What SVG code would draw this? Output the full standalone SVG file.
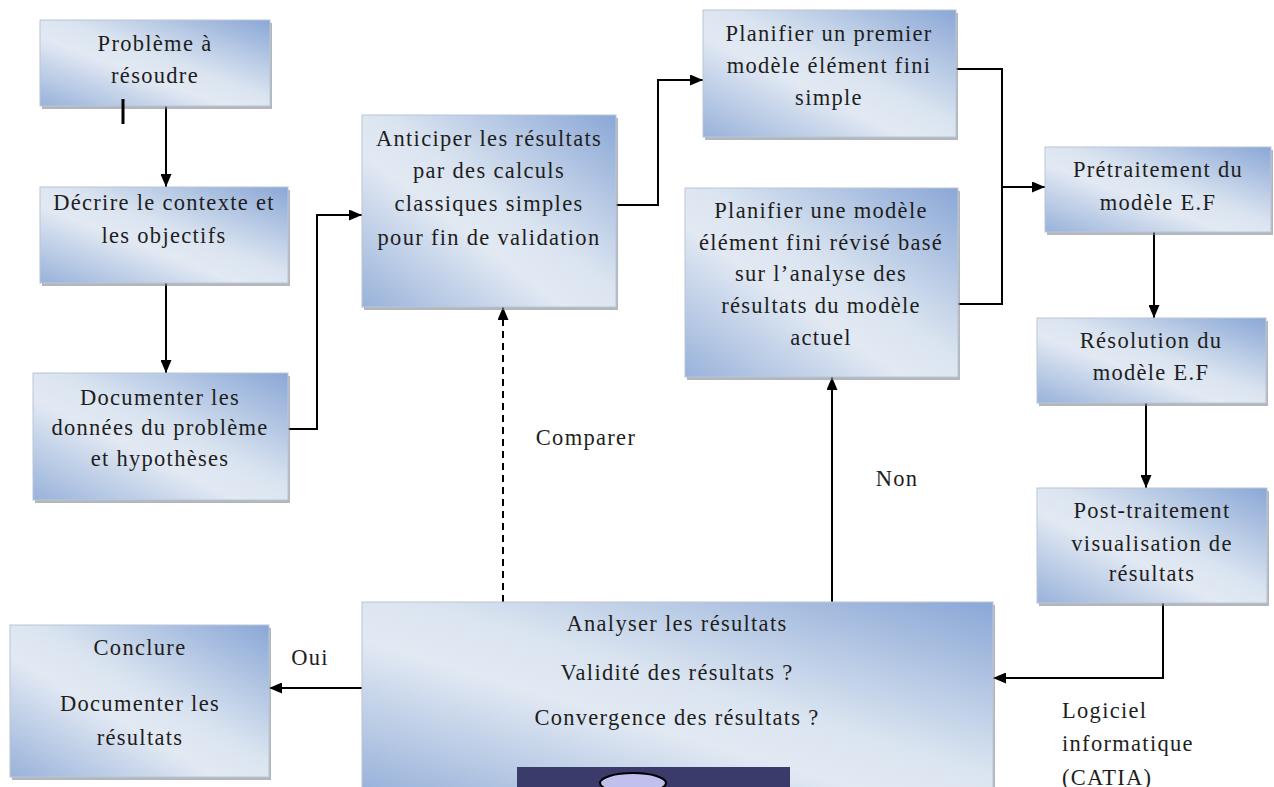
<svg xmlns="http://www.w3.org/2000/svg" width="1274" height="787" viewBox="0 0 1274 787">
<defs>
<linearGradient id="g" x1="1" y1="0" x2="0" y2="1">
<stop offset="0" stop-color="#8aa7d6"/>
<stop offset="0.45" stop-color="#dae4f0"/>
<stop offset="0.6" stop-color="#e2e9f3"/>
<stop offset="1" stop-color="#98b2da"/>
</linearGradient>
<marker id="ah" markerUnits="userSpaceOnUse" markerWidth="13" markerHeight="11" refX="13" refY="5.5" orient="auto">
<path d="M0,0 L13,5.5 L0,11 Z" fill="#000"/>
</marker>
</defs>
<style>
.box{fill:url(#g);stroke:#b9c6d8;stroke-width:1}
.sh{fill:#808790;opacity:0.6}
.t{font-family:"Liberation Serif","Times New Roman",serif;font-size:22.5px;letter-spacing:1.3px;fill:#1e1e1e;text-anchor:middle;dominant-baseline:central}
.l{text-anchor:start}
.c{fill:none;stroke:#000;stroke-width:2}
.a{marker-end:url(#ah)}
.d{stroke-dasharray:7 5}
</style>
<rect width="1274" height="787" fill="#ffffff"/>

<g id="connectors">
<polyline class="c a" points="166,106 166,187"/>
<polyline class="c a" points="166,283 166,373"/>
<polyline class="c a" points="288,429 317,429 317,215 362,215"/>
<polyline class="c a" points="616,205 658,205 658,80 703,80"/>
<polyline class="c" points="956,69 1002,69 1002,304 958,304"/>
<polyline class="c a" points="1002,187 1045,187"/>
<polyline class="c a" points="1154,232 1154,318"/>
<polyline class="c a" points="1146,403 1146,488"/>
<polyline class="c a" points="1163,603 1163,678 993,678"/>
<polyline class="c a d" points="503,602 503,307"/>
<polyline class="c a" points="832,602 832,377"/>
<polyline class="c a" points="362,688 269,688"/>
</g>

<g id="n1">
<rect class="sh" x="42" y="23" width="230" height="86"/>
<rect class="box" x="40" y="20" width="230" height="86"/>
<text class="t" x="155" y="43">Problème à</text>
<text class="t" x="155" y="75">résoudre</text>
</g>
<line x1="123" y1="99" x2="123" y2="124" stroke="#000" stroke-width="3"/>
<g id="n2">
<rect class="sh" x="42" y="190" width="248" height="96"/>
<rect class="box" x="40" y="187" width="248" height="96"/>
<text class="t" x="164" y="202">Décrire le contexte et</text>
<text class="t" x="164" y="235">les objectifs</text>
</g>
<g id="n3">
<rect class="sh" x="35" y="376" width="255" height="127"/>
<rect class="box" x="33" y="373" width="255" height="127"/>
<text class="t" x="160" y="397">Documenter les</text>
<text class="t" x="160" y="427">données du problème</text>
<text class="t" x="160" y="458">et hypothèses</text>
</g>
<g id="n4">
<rect class="sh" x="364" y="118" width="254" height="192"/>
<rect class="box" x="362" y="115" width="254" height="192"/>
<text class="t" x="489" y="138">Anticiper les résultats</text>
<text class="t" x="489" y="170">par des calculs</text>
<text class="t" x="489" y="203">classiques simples</text>
<text class="t" x="489" y="237">pour fin de validation</text>
</g>
<g id="n5">
<rect class="sh" x="705" y="13" width="253" height="127"/>
<rect class="box" x="703" y="10" width="253" height="127"/>
<text class="t" x="829" y="33">Planifier un premier</text>
<text class="t" x="829" y="65">modèle élément fini</text>
<text class="t" x="829" y="97">simple</text>
</g>
<g id="n6">
<rect class="sh" x="687" y="191" width="273" height="189"/>
<rect class="box" x="685" y="188" width="273" height="189"/>
<text class="t" x="821" y="210">Planifier une modèle</text>
<text class="t" x="821" y="242">élément fini révisé basé</text>
<text class="t" x="821" y="273">sur l’analyse des</text>
<text class="t" x="821" y="305">résultats du modèle</text>
<text class="t" x="821" y="337">actuel</text>
</g>
<g id="n7">
<rect class="sh" x="1047" y="150" width="226" height="85"/>
<rect class="box" x="1045" y="147" width="226" height="85"/>
<text class="t" x="1158" y="169">Prétraitement du</text>
<text class="t" x="1158" y="202">modèle E.F</text>
</g>
<g id="n8">
<rect class="sh" x="1039" y="321" width="229" height="85"/>
<rect class="box" x="1037" y="318" width="229" height="85"/>
<text class="t" x="1151" y="340">Résolution du</text>
<text class="t" x="1151" y="372">modèle E.F</text>
</g>
<g id="n9">
<rect class="sh" x="1039" y="491" width="230" height="115"/>
<rect class="box" x="1037" y="488" width="230" height="115"/>
<text class="t" x="1152" y="510">Post-traitement</text>
<text class="t" x="1152" y="543">visualisation de</text>
<text class="t" x="1152" y="573">résultats</text>
</g>
<g id="n10">
<rect class="sh" x="364" y="605" width="631" height="190"/>
<rect class="box" x="362" y="602" width="631" height="190"/>
<text class="t" x="677" y="623">Analyser les résultats</text>
<text class="t" x="677" y="672">Validité des résultats ?</text>
<text class="t" x="677" y="717">Convergence des résultats ?</text>
<rect x="517" y="767" width="273" height="22" fill="#3a3a6b"/>
<ellipse cx="633" cy="783" rx="33" ry="10" fill="#c0c0ec" stroke="#000" stroke-width="2"/>
</g>
<g id="n11">
<rect class="sh" x="12" y="628" width="259" height="152"/>
<rect class="box" x="10" y="625" width="259" height="152"/>
<text class="t" x="140" y="647">Conclure</text>
<text class="t" x="140" y="703">Documenter les</text>
<text class="t" x="140" y="737">résultats</text>
</g>

<g id="labels">
<text class="t" x="586" y="437">Comparer</text>
<text class="t" x="897" y="478">Non</text>
<text class="t" x="310" y="657">Oui</text>
<text class="t l" x="1062" y="710">Logiciel</text>
<text class="t l" x="1062" y="743">informatique</text>
<text class="t l" x="1062" y="777">(CATIA)</text>
</g>
</svg>
